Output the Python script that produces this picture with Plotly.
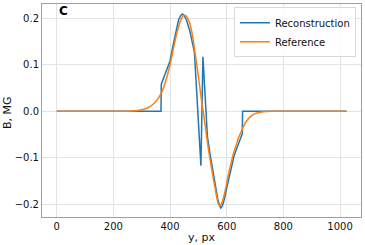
import plotly.graph_objects as go

# Reconstruction (blue)
rec_x = [0, 100, 200, 300, 368, 369, 380, 390, 400, 410, 420, 430, 438, 444, 450, 458, 470, 480,
         486, 497, 509, 516, 524, 532, 540, 550, 560, 568, 574, 579, 585, 592, 600, 612, 625,
         633, 645, 653, 655, 656, 700, 800, 900, 1023]
rec_y = [0, 0, 0, 0, 0, 0.058, 0.075, 0.092, 0.108, 0.140, 0.172, 0.196, 0.206, 0.209, 0.206,
         0.196, 0.172, 0.145, 0.127, 0.010, -0.117, 0.117, 0.030, -0.055, -0.088, -0.126,
         -0.160, -0.188, -0.202, -0.208, -0.203, -0.188, -0.165, -0.130, -0.098, -0.084,
         -0.064, -0.052, -0.048, 0, 0, 0, 0, 0]

# Reference (orange)
ref_x = [0, 100, 200, 250, 280, 300, 320, 340, 355, 370, 385, 400, 412, 424, 436, 445, 451, 458,
         465, 470, 480, 490, 500, 510, 517, 525, 535, 547, 559, 566, 571, 576, 583, 594, 606,
         624, 633, 641, 650, 659, 670, 683, 700, 720, 740, 760, 800, 900, 1023]
ref_y = [0, 0, 0, 0, 0.001, 0.003, 0.007, 0.015, 0.025, 0.040, 0.065, 0.100, 0.135, 0.168,
         0.193, 0.204, 0.206, 0.204, 0.196, 0.188, 0.160, 0.118, 0.075, 0.028, 0.0, -0.035,
         -0.080, -0.125, -0.165, -0.188, -0.200, -0.203, -0.197, -0.172, -0.136, -0.090,
         -0.073, -0.058, -0.045, -0.033, -0.021, -0.012, -0.005, -0.002, -0.0005, 0, 0, 0, 0]

x_ticks = [0, 200, 400, 600, 800, 1000]
y_ticks = [-0.2, -0.1, 0.0, 0.1, 0.2]

fig = go.Figure()
fig.add_trace(go.Scatter(x=rec_x, y=rec_y, mode="lines", name="Reconstruction",
                         line=dict(color="#1f77b4", width=1.5)))
fig.add_trace(go.Scatter(x=ref_x, y=ref_y, mode="lines", name="Reference",
                         line=dict(color="#ff7f0e", width=1.5, shape="spline", smoothing=0.6)))

font = "DejaVu Sans"
axis_common = dict(showgrid=True, gridcolor="#e3e3e3", gridwidth=1, zeroline=False,
                   showline=True, linecolor="#a0a0a0", linewidth=1, mirror=True,
                   ticks="", automargin=False,
                   tickfont=dict(family=font, size=10, color="#111"))

fig.update_layout(
    width=365, height=245,
    margin=dict(l=42, r=4, t=4, b=28, autoexpand=False),
    paper_bgcolor="white", plot_bgcolor="white",
    font=dict(family=font, size=10, color="#111"),
    xaxis=dict(range=[-52, 1074], tickvals=x_ticks, **axis_common),
    yaxis=dict(range=[-0.2272, 0.2304], tickvals=y_ticks, tickformat=".1f", **axis_common),
    legend=dict(x=0.984, y=0.985, xanchor="right", yanchor="top",
                bgcolor="rgba(255,255,255,0.8)", bordercolor="#d8d8d8", borderwidth=1,
                font=dict(family=font, size=10, color="#111"),
                tracegroupgap=0, itemwidth=30),
    showlegend=True,
)
fig.add_annotation(text="<b>C</b>", x=0.067, y=0.965, xref="paper", yref="paper",
                   showarrow=False, font=dict(family=font, size=12, color="#000"),
                   xanchor="center", yanchor="middle")
# axis titles
fig.add_annotation(text="y, px", x=0.499, y=-0.094, xref="paper", yref="paper",
                   showarrow=False, font=dict(family=font, size=11, color="#111"),
                   xanchor="center", yanchor="middle")
fig.add_annotation(text="B, MG", x=-0.11, y=0.492, xref="paper", yref="paper",
                   showarrow=False, textangle=-90, font=dict(family=font, size=11, color="#111"),
                   xanchor="center", yanchor="middle")

fig.write_html("out.html", config={"displayModeBar": False},
               post_script="document.body.style.margin='0';document.body.style.overflow='hidden';")
